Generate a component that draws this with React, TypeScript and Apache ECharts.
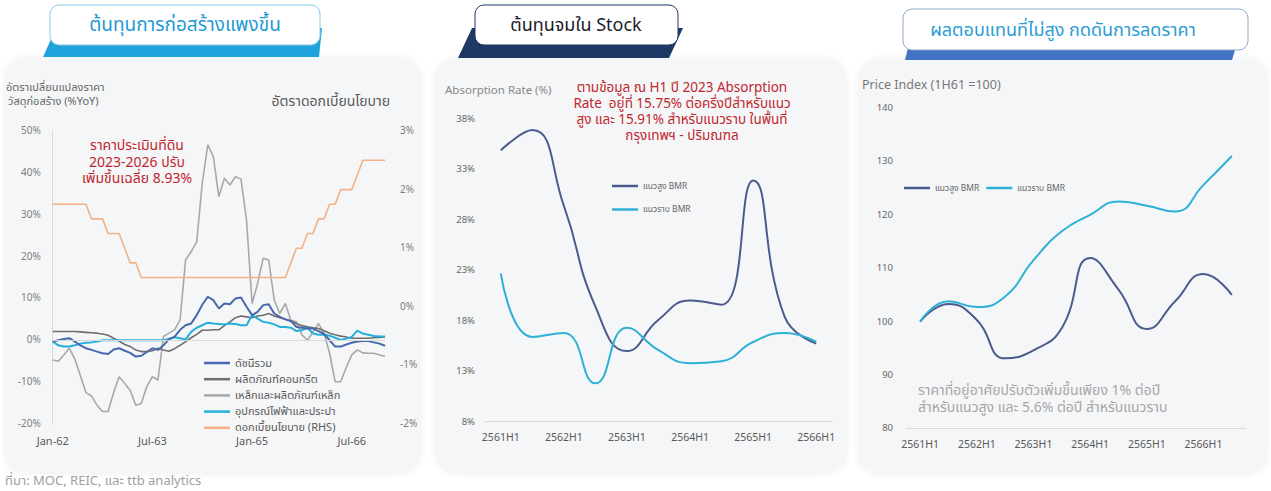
import React, { useEffect, useRef } from "react";
import * as echarts from "echarts";

const FONT = "'Noto Sans Thai', 'Noto Sans', 'DejaVu Sans', sans-serif";

// ---------- Chart 1: construction material prices (%YoY) & policy rate ----------
const MONTHS = ["Jan", "Feb", "Mar", "Apr", "May", "Jun", "Jul", "Aug", "Sep", "Oct", "Nov", "Dec"];
const START_YEAR = 62;
const N_MONTHS = 61;
const monthCats = Array.from({ length: N_MONTHS }, (_, i) => `${MONTHS[i % 12]}-${START_YEAR + Math.floor(i / 12)}`);

const c1Names = ["ดัชนีรวม", "ผลิตภัณฑ์คอนกรีต", "เหล็กและผลิตภัณฑ์เหล็ก", "อุปกรณ์ไฟฟ้าและประปา", "ดอกเบี้ยนโยบาย (RHS)"];

const indexAll = [
  -0.3, 0.0, 0.3, 0.5, -0.3, -1.2, -1.9, -2.3, -2.7, -3.1, -3.3, -2.2,
  -1.9, -2.5, -3.0, -3.9, -3.7, -2.8, -1.9, -2.3, -1.2, 0.3, 0.8, 2.5,
  3.6, 4.0, 6.0, 8.5, 10.4, 9.6, 7.6, 8.8, 8.6, 10.0, 10.2, 8.0,
  6.0, 6.8, 8.4, 8.6, 6.4, 5.6, 5.0, 4.6, 3.2, 3.0, 2.8, 2.8,
  2.2, 1.5, 0.0, -1.5, -1.5, -1.0, -0.6, -0.3, -0.2, -0.2, -0.5, -0.8,
  -1.3,
];
const concrete = [
  2.1, 2.1, 2.1, 2.1, 2.1, 2.0, 1.9, 1.8, 1.7, 1.5, 1.2, 0.5,
  -0.2, -1.0, -1.5, -2.3, -2.7, -2.7, -2.5, -1.9, -2.3, -2.6, -2.0, -1.2,
  -0.3, 0.6, 1.4, 2.4, 2.4, 2.5, 2.5, 3.5, 4.4, 5.4, 5.8, 5.6,
  5.4, 5.8, 6.0, 6.4, 5.8, 5.4, 5.0, 4.6, 4.0, 3.5, 3.2, 3.0,
  2.8, 2.3, 1.7, 1.3, 1.0, 0.8, 0.5, 0.5, 0.5, 0.5, 0.6, 0.7,
  0.8,
];
const steel = [
  -4.7, -5.0, -3.5, -1.9, -4.5, -8.5, -12.5, -13.3, -15.5, -17.0, -17.0, -12.5,
  -8.7, -10.3, -12.0, -15.5, -15.1, -11.0, -8.7, -9.5, 0.9, 1.7, 2.5, 4.8,
  19.2, 21.2, 23.5, 37.5, 46.7, 43.9, 34.3, 38.7, 37.1, 39.1, 38.5, 28.7,
  8.8, 13.6, 19.6, 19.2, 9.6, 6.4, 8.8, 4.8, 4.4, 1.3, 0.0, 2.0,
  4.0, 1.7, -3.1, -9.9, -9.9, -6.5, -3.5, -2.3, -3.0, -3.1, -3.1, -3.5,
  -3.8,
];
const electrical = [
  -0.3, -1.2, -1.5, -1.5, -1.2, -0.8, -0.6, -0.5, -0.3, 0.0, 0.0, 0.0,
  0.0, 0.0, 0.0, 0.0, 0.0, 0.0, 0.0, 0.0, 0.0, 0.3, 0.7, 0.5,
  0.2, 2.0, 3.0, 3.6, 4.2, 4.0, 3.9, 3.8, 4.0, 3.9, 3.6, 3.6,
  6.0, 5.2, 4.4, 4.2, 3.8, 3.2, 3.2, 3.0, 2.2, 2.4, 3.0, 1.6,
  1.3, 1.3, 1.1, 0.6, 0.1, 0.4, 0.8, 2.3, 1.6, 1.3, 1.0, 0.9,
  0.9,
];
const policyRate = [
  1.75, 1.75, 1.75, 1.75, 1.75, 1.75, 1.75, 1.5, 1.5, 1.5, 1.25, 1.25,
  1.25, 1.0, 0.75, 0.75, 0.5, 0.5, 0.5, 0.5, 0.5, 0.5, 0.5, 0.5,
  0.5, 0.5, 0.5, 0.5, 0.5, 0.5, 0.5, 0.5, 0.5, 0.5, 0.5, 0.5,
  0.5, 0.5, 0.5, 0.5, 0.5, 0.5, 0.5, 0.75, 1.0, 1.0, 1.25, 1.25,
  1.5, 1.5, 1.75, 1.75, 2.0, 2.0, 2.0, 2.25, 2.5, 2.5, 2.5, 2.5,
  2.5,
];

// ---------- Chart 2: absorption rate ----------
const halfCats2 = ["2561H1", "2561H2", "2562H1", "2562H2", "2563H1", "2563H2", "2564H1", "2564H2", "2565H1", "2565H2", "2566H1"];
const absHigh = [34.9, 36.9, 29.4, 19.4, 15.0, 18.1, 20.0, 19.6, 31.9, 18.4, 15.75];
const absLow = [22.7, 16.4, 16.8, 11.8, 17.3, 15.1, 13.8, 14.0, 15.9, 16.8, 15.91];

// ---------- Chart 3: price index ----------
const halfCats3 = ["2561H1", "2561H2", "2562H1", "2562H2", "2563H1", "2563H2", "2564H1", "2564H2", "2565H1", "2565H2", "2566H1", "2566H2"];
const priceHigh = [100, 103.3, 100.3, 93.1, 94.6, 98.8, 111.9, 106.0, 98.6, 103.8, 108.9, 105.0];
const priceLow = [100, 103.8, 102.7, 104.7, 111.5, 116.9, 120.0, 122.5, 121.7, 120.6, 125.6, 131.0];

const HIGH_NAME = "แนวสูง BMR";
const LOW_NAME = "แนวราบ BMR";

const COL = {
  index: "#4868ad",
  concrete: "#6e6e6e",
  steel: "#a8a8a8",
  elec: "#24b0dc",
  rate: "#f4b183",
  high: "#4a5b8e",
  low: "#2eb1d4",
};

function txt(x: number, y: number, text: string, size: number, fill: string, align = "left", lineHeight?: number, weight = "normal") {
  return {
    type: "text",
    x,
    y,
    z: 20,
    style: {
      text,
      fill,
      fontSize: size,
      fontFamily: FONT,
      fontWeight: weight,
      textAlign: align,
      textVerticalAlign: "middle",
      lineHeight: lineHeight || size * 1.2,
    },
  };
}

export default function App() {
  const ref = useRef<HTMLDivElement>(null);

  useEffect(() => {
    if (!ref.current) return;
    const chart = echarts.init(ref.current, undefined, { renderer: "svg" });

    const panelStyle = { fill: "#f5f6f8", shadowBlur: 6, shadowColor: "rgba(0,0,0,0.06)" };

    const graphic: any[] = [
      // panels
      { type: "rect", z: -10, shape: { x: 4, y: 57, width: 417, height: 417, r: 22 }, style: panelStyle },
      { type: "rect", z: -10, shape: { x: 434, y: 58, width: 413, height: 416, r: 22 }, style: panelStyle },
      { type: "rect", z: -10, shape: { x: 858, y: 58, width: 410, height: 417, r: 22 }, style: panelStyle },
      // tab 1
      { type: "polygon", z: 5, shape: { points: [[56, 28], [322, 28], [319, 57], [43, 57]] }, style: { fill: "#1ea3dc" } },
      { type: "rect", z: 6, shape: { x: 50, y: 5, width: 270, height: 40, r: 9 }, style: { fill: "#ffffff", stroke: "#86c9ea", lineWidth: 1 } },
      txt(185, 25, "ต้นทุนการก่อสร้างแพงขึ้น", 19, "#1f9ad6", "center"),
      // tab 2
      { type: "polygon", z: 5, shape: { points: [[472, 28], [683, 28], [669, 58], [458, 58]] }, style: { fill: "#1f3864" } },
      { type: "rect", z: 6, shape: { x: 475, y: 5, width: 203, height: 40, r: 9 }, style: { fill: "#ffffff", stroke: "#1f3864", lineWidth: 1 } },
      txt(576, 25, "ต้นทุนจมใน Stock", 18, "#1b1b2a", "center"),
      // tab 3
      { type: "polygon", z: 5, shape: { points: [[910, 40], [1238, 40], [1232, 60], [905, 60]] }, style: { fill: "#4472c4" } },
      { type: "rect", z: 6, shape: { x: 903, y: 9, width: 345, height: 41, r: 9 }, style: { fill: "#ffffff", stroke: "#8ea9c8", lineWidth: 1 } },
      txt(1063, 30, "ผลตอบแทนที่ไม่สูง กดดันการลดราคา", 18, "#2a9dd6", "center"),
      // chart 1 texts
      txt(6, 87, "อัตราเปลี่ยนแปลงราคา", 11, "#666666"),
      txt(8, 101, "วัสดุก่อสร้าง (%YoY)", 11, "#666666"),
      txt(390, 101, "อัตราดอกเบี้ยนโยบาย", 14, "#595959", "right"),
      txt(137, 162, "ราคาประเมินที่ดิน\n2023-2026 ปรับ\nเพิ่มขึ้นเฉลี่ย 8.93%", 14, "#c1272d", "center", 16.5),
      // chart 2 texts
      txt(445, 90, "Absorption Rate (%)", 11.5, "#888888"),
      txt(682, 112, "ตามข้อมูล ณ H1 ปี 2023 Absorption\nRate  อยู่ที่ 15.75% ต่อครึ่งปีสำหรับแนว\nสูง และ 15.91% สำหรับแนวราบ ในพื้นที่\nกรุงเทพฯ - ปริมณฑล", 13.5, "#c1272d", "center", 16),
      // chart 3 texts
      txt(862, 85, "Price Index (1H61 =100)", 12.5, "#777777"),
      txt(918, 390.5, "ราคาที่อยู่อาศัยปรับตัวเพิ่มขึ้นเพียง 1% ต่อปี", 14, "#a6a6a6"),
      txt(918, 407, "สำหรับแนวสูง และ 5.6% ต่อปี สำหรับแนวราบ", 14, "#a6a6a6"),
      // source
      txt(5, 481, "ที่มา: MOC, REIC, และ ttb analytics", 13, "#a0a0a0"),
    ];

    const axisLabel = (size: number, color: string, extra: any = {}) => ({ fontSize: size, color, fontFamily: FONT, ...extra });

    const option: any = {
      animation: false,
      backgroundColor: "#ffffff",
      textStyle: { fontFamily: FONT },
      graphic,
      grid: [
        { left: 52.7, top: 131, width: 332.3, height: 293 },
        { left: 485, top: 119, width: 347, height: 302.7 },
        { left: 906, top: 108, width: 340, height: 320.3 },
      ],
      xAxis: [
        {
          gridIndex: 0, type: "category", data: monthCats, boundaryGap: false,
          axisLine: { show: false }, axisTick: { show: false },
          axisLabel: axisLabel(11, "#595959", { interval: 17, margin: 12 }),
        },
        {
          gridIndex: 1, type: "category", data: halfCats2, boundaryGap: true,
          axisLine: { show: true, lineStyle: { color: "#d9d9d9" } }, axisTick: { show: false },
          axisLabel: axisLabel(10.5, "#595959", { interval: 1, margin: 11 }),
        },
        {
          gridIndex: 2, type: "category", data: halfCats3, boundaryGap: true,
          axisLine: { show: true, lineStyle: { color: "#d9d9d9" } }, axisTick: { show: false },
          axisLabel: axisLabel(10.5, "#595959", { interval: 1, margin: 11 }),
        },
      ],
      yAxis: [
        {
          gridIndex: 0, type: "value", min: -20, max: 50, interval: 10,
          axisLine: { show: true, lineStyle: { color: "#d9d9d9" } }, axisTick: { show: false }, splitLine: { show: false },
          axisLabel: axisLabel(10, "#7f7f7f", { formatter: "{value}%", margin: 12 }),
        },
        {
          gridIndex: 0, type: "value", position: "right", min: -2, max: 3, interval: 1,
          axisLine: { show: false }, axisTick: { show: false }, splitLine: { show: false },
          axisLabel: axisLabel(10, "#7f7f7f", { formatter: "{value}%", margin: 15 }),
        },
        {
          gridIndex: 1, type: "value", min: 8, max: 38, interval: 5,
          axisLine: { show: false }, axisTick: { show: false }, splitLine: { show: false },
          axisLabel: axisLabel(9.5, "#666666", { formatter: "{value}%", margin: 10 }),
        },
        {
          gridIndex: 2, type: "value", min: 80, max: 140, interval: 10,
          axisLine: { show: false }, axisTick: { show: false }, splitLine: { show: false },
          axisLabel: axisLabel(9.5, "#666666", { margin: 13 }),
        },
      ],
      legend: [
        {
          orient: "vertical", left: 199, top: 352, itemWidth: 26, itemHeight: 2.5, itemGap: 4.2,
          icon: "rect", data: c1Names,
          textStyle: { fontSize: 11, color: "#595959", lineHeight: 12, fontFamily: FONT },
        },
        {
          orient: "vertical", left: 607, top: 176, itemWidth: 26, itemHeight: 2.5, itemGap: 13.5,
          icon: "rect", data: [HIGH_NAME, LOW_NAME],
          textStyle: { fontSize: 8.5, color: "#666666", lineHeight: 10, fontFamily: FONT },
        },
        {
          orient: "horizontal", left: 899, top: 178, itemWidth: 26, itemHeight: 2.5, itemGap: 7,
          icon: "rect", data: [HIGH_NAME, LOW_NAME],
          textStyle: { fontSize: 8.5, color: "#666666", lineHeight: 10, fontFamily: FONT },
        },
      ],
      series: [
        {
          name: c1Names[2], type: "line", xAxisIndex: 0, yAxisIndex: 0, data: steel, symbol: "none",
          lineStyle: { color: COL.steel, width: 1.6 }, itemStyle: { color: COL.steel },
          markLine: {
            silent: true, symbol: "none", label: { show: false },
            lineStyle: { color: "#d9d9d9", width: 1, type: "solid" }, data: [{ yAxis: 0 }],
          },
        },
        {
          name: c1Names[1], type: "line", xAxisIndex: 0, yAxisIndex: 0, data: concrete, symbol: "none",
          lineStyle: { color: COL.concrete, width: 1.6 }, itemStyle: { color: COL.concrete },
        },
        {
          name: c1Names[4], type: "line", xAxisIndex: 0, yAxisIndex: 1, data: policyRate, symbol: "none",
          lineStyle: { color: COL.rate, width: 1.6 }, itemStyle: { color: COL.rate },
        },
        {
          name: c1Names[3], type: "line", xAxisIndex: 0, yAxisIndex: 0, data: electrical, symbol: "none",
          lineStyle: { color: COL.elec, width: 2 }, itemStyle: { color: COL.elec },
        },
        {
          name: c1Names[0], type: "line", xAxisIndex: 0, yAxisIndex: 0, data: indexAll, symbol: "none",
          lineStyle: { color: COL.index, width: 2 }, itemStyle: { color: COL.index },
        },
        {
          name: HIGH_NAME, type: "line", xAxisIndex: 1, yAxisIndex: 2, data: absHigh, symbol: "none", smooth: 0.5,
          lineStyle: { color: COL.high, width: 2 }, itemStyle: { color: COL.high },
        },
        {
          name: LOW_NAME, type: "line", xAxisIndex: 1, yAxisIndex: 2, data: absLow, symbol: "none", smooth: 0.5,
          lineStyle: { color: COL.low, width: 2 }, itemStyle: { color: COL.low },
        },
        {
          name: HIGH_NAME, type: "line", xAxisIndex: 2, yAxisIndex: 3, data: priceHigh, symbol: "none", smooth: 0.5,
          lineStyle: { color: COL.high, width: 2 }, itemStyle: { color: COL.high },
        },
        {
          name: LOW_NAME, type: "line", xAxisIndex: 2, yAxisIndex: 3, data: priceLow, symbol: "none", smooth: 0.5,
          lineStyle: { color: COL.low, width: 2 }, itemStyle: { color: COL.low },
        },
      ],
    };

    chart.setOption(option);
    return () => chart.dispose();
  }, []);

  return <div ref={ref} style={{ position: "absolute", left: 0, top: 0, width: 1271, height: 491 }} />;
}
